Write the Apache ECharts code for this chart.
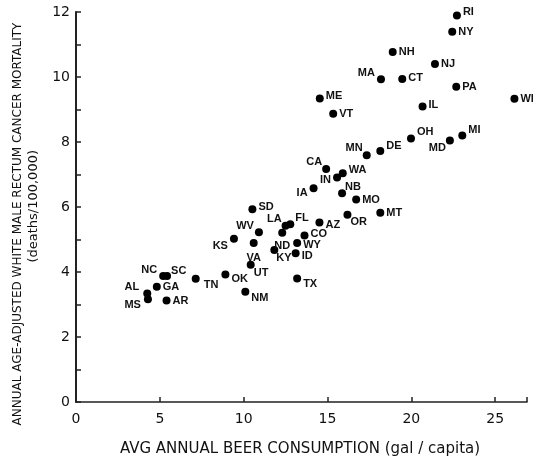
<!DOCTYPE html>
<html>
<head>
<meta charset="utf-8">
<script src="https://cdn.jsdelivr.net/npm/echarts@6/dist/echarts.min.js"></script>
<style>
  html, body { margin: 0; padding: 0; background: #fff; }
  #chart { width: 533px; height: 464px; }
</style>
</head>
<body>
<div id="chart"></div>
<script>
// state abbreviations
const states = ['RI', 'NY', 'NH', 'NJ', 'MA', 'CT', 'PA', 'ME', 'WI', 'VT',
  'IL', 'OH', 'MI', 'MD', 'DE', 'MN', 'CA', 'WA', 'IN', 'IA',
  'NB', 'MO', 'OR', 'MT', 'AZ', 'SD', 'LA', 'FL', 'ND', 'WV',
  'KS', 'VA', 'CO', 'WY', 'KY', 'ID', 'UT', 'OK', 'TX', 'NM',
  'NC', 'SC', 'AL', 'MS', 'GA', 'AR', 'TN']
// avg annual beer consumption (gal/capita)
const beer = [22.72, 22.44, 18.89, 21.41, 18.19, 19.46, 22.68, 14.54, 26.15, 15.34,
  20.67, 19.98, 23.04, 22.30, 18.15, 17.34, 14.92, 15.91, 15.57, 14.17,
  15.87, 16.71, 16.19, 18.15, 14.52, 10.52, 12.50, 12.78, 12.30, 10.91,
  9.42, 10.60, 13.63, 13.19, 11.83, 13.10, 10.42, 8.91, 13.19, 10.10,
  5.20, 5.43, 4.25, 4.29, 4.82, 5.40, 7.14]
// rectum cancer mortality (deaths/100,000)
const mortality = [11.89, 11.39, 10.77, 10.40, 9.93, 9.94, 9.70, 9.34, 9.33, 8.87,
  9.09, 8.11, 8.20, 8.05, 7.72, 7.59, 7.17, 7.04, 6.91, 6.58,
  6.42, 6.23, 5.76, 5.82, 5.52, 5.93, 5.42, 5.47, 5.21, 5.22,
  5.02, 4.89, 5.12, 4.89, 4.68, 4.58, 4.22, 3.92, 3.80, 3.39,
  3.88, 3.88, 3.34, 3.16, 3.55, 3.12, 3.79]

// where each state label sits relative to its dot
const labelPos = {
  RI: ['right', [0, -4]], NY: ['right', [0, 0]], NH: ['right', [0, 0]], NJ: ['right', [0, 0]],
  MA: ['left', [0, -6]], CT: ['right', [0, -1]], PA: ['right', [0, 0]], ME: ['right', [0, -2]],
  WI: ['right', [0, 0]], VT: ['right', [0, 0]], IL: ['right', [0, -2]], OH: ['right', [0, -6]],
  MI: ['right', [0, -6]], MD: ['left', [2, 8]], DE: ['right', [0, -5]], MN: ['left', [2, -7]],
  CA: ['left', [2, -7]], WA: ['right', [0, -3]], IN: ['left', [0, 3]], IA: ['left', [0, 5]],
  NB: ['right', [-3, -6]], MO: ['right', [0, 0]], OR: ['right', [-3, 7]], MT: ['right', [0, 0]],
  AZ: ['right', [0, 2]], SD: ['right', [0, -2]], LA: ['left', [2, -7]], FL: ['right', [-1, -6]],
  ND: ['bottom', [0, 2]], WV: ['left', [1, -6]], KS: ['left', [0, 7]], VA: ['bottom', [0, 3]],
  CO: ['right', [0, -2]], WY: ['right', [0, 2]], KY: ['right', [-4, 8]], ID: ['right', [0, 3]],
  UT: ['right', [-3, 8]], OK: ['right', [0, 4]], TX: ['right', [0, 5]], NM: ['right', [0, 6]],
  NC: ['left', [0, -6]], SC: ['right', [-2, -5]], AL: ['left', [-2, -6]], MS: ['left', [-1, 6]],
  GA: ['right', [0, 0]], AR: ['right', [0, 0]], TN: ['right', [2, 6]]
}

const chart = echarts.init(document.getElementById('chart'))

const points = states.map((s, i) => ({
  name: s,
  value: [beer[i], mortality[i]],
  label: {
    position: labelPos[s][0],
    offset: labelPos[s][1]
  }
}))

const option = {
  backgroundColor: '#fff',
  animation: false,
  grid: { left: 76, right: 6, top: 12, bottom: 62 },
  xAxis: {
    type: 'value',
    min: 0,
    max: 26.9,
    interval: 5,
    name: 'AVG ANNUAL BEER CONSUMPTION (gal / capita)',
    nameLocation: 'middle',
    nameGap: 40,
    nameTextStyle: { color: '#111', fontSize: 15, fontFamily: 'DejaVu Sans', padding: [0, 3, 0, 0] },
    axisLine: { lineStyle: { color: '#222', width: 1.5 } },
    axisTick: { inside: true, length: 5, lineStyle: { color: '#222', width: 1.5 } },
    axisLabel: {
      color: '#111', fontSize: 14, fontFamily: 'DejaVu Sans', margin: 10,
      formatter: v => (v % 5 === 0 ? String(v) : '')
    },
    splitLine: { show: false }
  },
  yAxis: {
    type: 'value',
    min: 0,
    max: 12,
    interval: 1,
    name: 'ANNUAL AGE-ADJUSTED WHITE MALE RECTUM CANCER MORTALITY',
    nameLocation: 'middle',
    nameGap: 52,
    nameTextStyle: { color: '#111', fontSize: 12, fontFamily: 'DejaVu Sans', padding: [0, 34, 0, 0] },
    axisLine: { lineStyle: { color: '#222', width: 2 } },
    axisTick: { inside: true, length: 5, lineStyle: { color: '#222', width: 1.5 } },
    axisLabel: {
      color: '#111', fontSize: 14, fontFamily: 'DejaVu Sans', margin: 6,
      formatter: v => (v % 2 === 0 ? String(v) : '')
    },
    splitLine: { show: false }
  },
  graphic: [{
    type: 'text',
    left: 27,
    top: 150,
    rotation: Math.PI / 2,
    style: {
      text: '(deaths/100,000)',
      fill: '#111',
      font: '13px "DejaVu Sans"'
    }
  }],
  series: [{
    type: 'scatter',
    symbolSize: 8,
    itemStyle: { color: '#000', opacity: 1 },
    label: {
      show: true,
      formatter: '{b}',
      distance: 2,
      color: '#111',
      fontSize: 11,
      fontWeight: 'bold',
      fontFamily: 'Liberation Sans'
    },
    emphasis: { disabled: true },
    data: points
  }]
}

chart.setOption(option)
</script>
</body>
</html>
